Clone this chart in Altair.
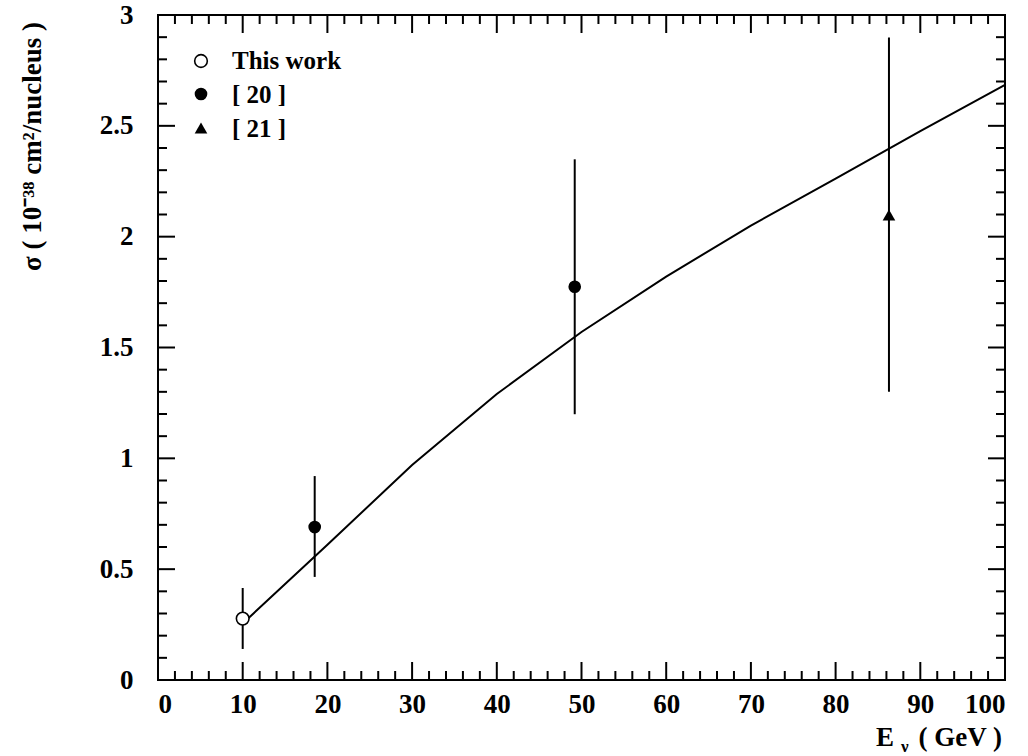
import altair as alt
import pandas as pd

# ---- data ----
curve_E = [10, 20, 30, 40, 50, 60, 70, 80, 90, 100]
curve_sig = [0.255, 0.61, 0.97, 1.29, 1.57, 1.82, 2.05, 2.262, 2.476, 2.685]

work_E = [10.0]
work_sig = [0.277]
work_lo = [0.14]
work_hi = [0.415]

ref20_E = [18.5, 49.2]
ref20_sig = [0.69, 1.774]
ref20_lo = [0.465, 1.199]
ref20_hi = [0.92, 2.349]

ref21_E = [86.3]
ref21_sig = [2.098]
ref21_lo = [1.30]
ref21_hi = [2.899]

legend_labels = ["This work", "[ 20 ]", "[ 21 ]"]
x_tick_labels = list(range(0, 101, 10))
y_tick_labels = [0, 0.5, 1, 1.5, 2, 2.5, 3]

y_title = "σ ( 10⁻³⁸ cm²/nucleus )"
x_title_main = "E"
x_title_sub = "ν"
x_title_unit = "( GeV )"

# ---- layout ----
W, H = 847, 665
FONT = "Liberation Serif"

xs = alt.Scale(domain=[0, 100], nice=False, zero=False)
ys = alt.Scale(domain=[0, 3], nice=False, zero=False)

x_minor = [v for v in range(0, 101, 2) if v % 10]
y_minor = [round(i * 0.1, 1) for i in range(31) if i % 5]

curve_df = pd.DataFrame({"E": curve_E, "sig": curve_sig})
work_df = pd.DataFrame({"E": work_E, "sig": work_sig, "lo": work_lo, "hi": work_hi})
r20_df = pd.DataFrame({"E": ref20_E, "sig": ref20_sig, "lo": ref20_lo, "hi": ref20_hi})
r21_df = pd.DataFrame({"E": ref21_E, "sig": ref21_sig, "lo": ref21_lo, "hi": ref21_hi})

x_axis = alt.Axis(values=x_tick_labels, tickSize=0, domain=False, grid=False,
                  labelFont=FONT, labelFontWeight="bold", labelFontSize=27,
                  labelPadding=11, labelColor="black", title=None)
y_axis = alt.Axis(values=y_tick_labels, tickSize=0, domain=False, grid=False,
                  labelFont=FONT, labelFontWeight="bold", labelFontSize=27,
                  labelPadding=25, labelColor="black", title=None,
                  labelExpr="'' + datum.value")

curve = alt.Chart(curve_df).mark_line(color="black", strokeWidth=2).encode(
    x=alt.X("E:Q", scale=xs, axis=x_axis),
    y=alt.Y("sig:Q", scale=ys, axis=y_axis),
)


def errbars(df):
    return alt.Chart(df).mark_rule(color="black", strokeWidth=2).encode(
        x=alt.X("E:Q", scale=xs, axis=x_axis),
        y=alt.Y("lo:Q", scale=ys, axis=y_axis),
        y2="hi:Q",
    )


def pts(df, mark):
    return alt.Chart(df).mark_point(**mark).encode(
        x=alt.X("E:Q", scale=xs, axis=x_axis),
        y=alt.Y("sig:Q", scale=ys, axis=y_axis),
    )


open_mark = dict(shape="circle", filled=True, fill="white", stroke="black",
                 strokeWidth=1.6, size=160, opacity=1)
full_mark = dict(shape="circle", filled=True, color="black", size=160, opacity=1)
tri_mark = dict(shape="triangle-up", filled=True, color="black", size=160, opacity=1)


def xticks(vals, length):
    d = pd.DataFrame({"E": vals})
    b = alt.Chart(d).mark_rule(color="black", strokeWidth=2).encode(
        x=alt.X("E:Q", scale=xs, axis=x_axis), y=alt.value(H), y2=alt.value(H - length))
    t = alt.Chart(d).mark_rule(color="black", strokeWidth=2).encode(
        x=alt.X("E:Q", scale=xs, axis=x_axis), y=alt.value(0), y2=alt.value(length))
    return [b, t]


def yticks(vals, length):
    d = pd.DataFrame({"sig": vals})
    l = alt.Chart(d).mark_rule(color="black", strokeWidth=2).encode(
        y=alt.Y("sig:Q", scale=ys, axis=y_axis), x=alt.value(0), x2=alt.value(length))
    r = alt.Chart(d).mark_rule(color="black", strokeWidth=2).encode(
        y=alt.Y("sig:Q", scale=ys, axis=y_axis), x=alt.value(W), x2=alt.value(W - length))
    return [l, r]


ticks = (xticks(x_tick_labels, 18) + xticks(x_minor, 9)
         + yticks(y_tick_labels, 17) + yticks(y_minor, 9))

# legend
leg_marks = [open_mark, full_mark, tri_mark]
leg_sym_y = [46, 79, 113]
leg_txt_y = [54, 88, 122]
legend_layers = []
for lab, mk, sy, ty in zip(legend_labels, leg_marks, leg_sym_y, leg_txt_y):
    d = pd.DataFrame({"label": [lab]})
    legend_layers.append(alt.Chart(d).mark_point(**mk).encode(
        x=alt.value(43), y=alt.value(sy)))
    legend_layers.append(alt.Chart(d).mark_text(
        font=FONT, fontWeight="bold", fontSize=25, align="left",
        baseline="alphabetic", color="black").encode(
        text="label:N", x=alt.value(74), y=alt.value(ty)))

# axis titles
yt = alt.Chart(pd.DataFrame({"t": [y_title]})).mark_text(
    font=FONT, fontWeight="bold", fontSize=27, angle=270, align="right",
    baseline="middle", color="black").encode(
    text="t:N", x=alt.value(-125), y=alt.value(7))

xt_main = alt.Chart(pd.DataFrame({"t": [x_title_main]})).mark_text(
    font=FONT, fontWeight="bold", fontSize=27, align="left",
    baseline="alphabetic", color="black").encode(
    text="t:N", x=alt.value(718), y=alt.value(731))
xt_sub = alt.Chart(pd.DataFrame({"t": [x_title_sub]})).mark_text(
    font=FONT, fontWeight="bold", fontSize=17, align="left",
    baseline="alphabetic", color="black").encode(
    text="t:N", x=alt.value(743), y=alt.value(737))
xt_unit = alt.Chart(pd.DataFrame({"t": [x_title_unit]})).mark_text(
    font=FONT, fontWeight="bold", fontSize=27, align="right",
    baseline="alphabetic", color="black").encode(
    text="t:N", x=alt.value(844), y=alt.value(731))

layers = ([curve] + ticks
          + [errbars(work_df), errbars(r20_df), errbars(r21_df),
             pts(work_df, open_mark), pts(r20_df, full_mark), pts(r21_df, tri_mark)]
          + legend_layers + [yt, xt_main, xt_sub, xt_unit])

chart = alt.layer(*layers).properties(
    width=W, height=H,
    autosize=alt.AutoSizeParams(type="none"),
    padding={"left": 158, "top": 15, "right": 23, "bottom": 76},
    background="white",
).configure_view(stroke="black", strokeWidth=2)

chart.save("out.html", embed_options={"renderer": "svg", "actions": False})
